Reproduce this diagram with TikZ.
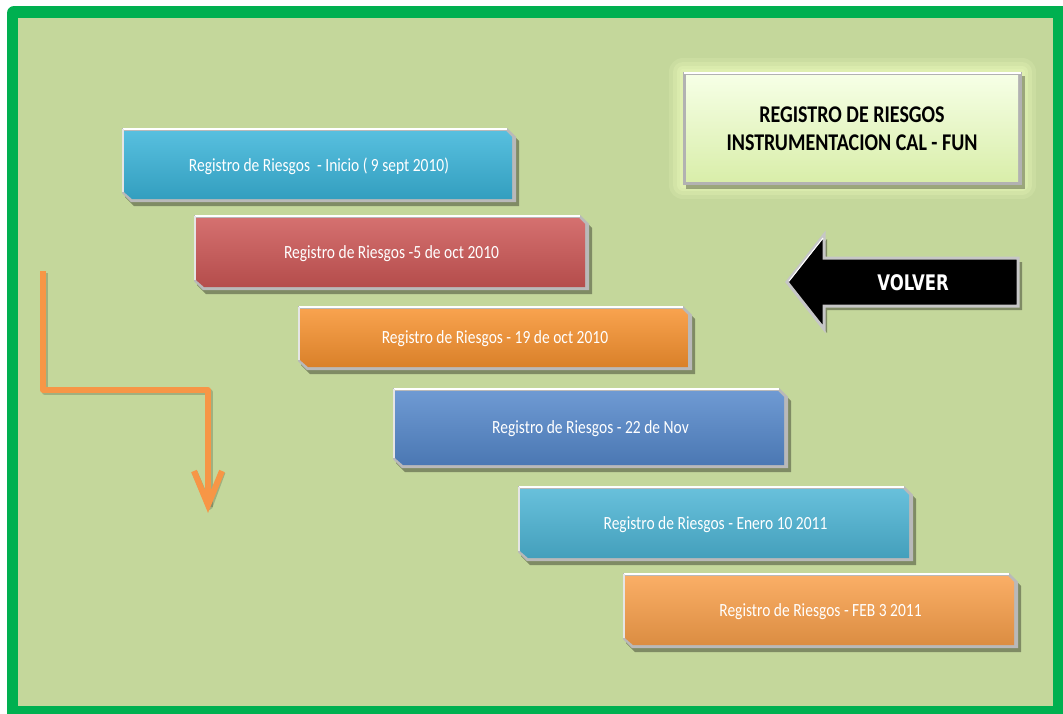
\documentclass[tikz,border=0pt]{standalone}
\usepackage{graphicx}
\usepackage{fontspec}
\setmainfont{Carlito}
\newfontfamily\volverfont{DejaVu Sans}
\usetikzlibrary{calc}

% colours
\definecolor{frameGreen}{HTML}{00B050}
\definecolor{paper}{HTML}{C4D79B}
\definecolor{boxA}{HTML}{3AB4D9}
\definecolor{boxB}{HTML}{CD5756}
\definecolor{boxC}{HTML}{F7922F}
\definecolor{boxD}{HTML}{5588CB}
\definecolor{boxE}{HTML}{4DB5D5}
\definecolor{boxF}{HTML}{F9A04B}
\definecolor{flowOrange}{HTML}{F79646}
\definecolor{titleTop}{HTML}{F6FFE6}
\definecolor{titleBottom}{HTML}{D9EEAA}
\definecolor{titleGlow}{HTML}{E2F2B4}

% vertically stretched text
\newcommand\tallx[2]{\scalebox{1}[#1]{#2}}

\tikzset{
  boxtext/.style={text=white, font=\fontsize{15.5}{18}\selectfont, inner sep=0pt},
  titletext/.style={text=black, font=\bfseries\fontsize{20}{28}\selectfont, align=center, inner sep=0pt},
  volvertext/.style={text=white, font=\volverfont\bfseries\fontsize{16.5}{20}\selectfont, inner sep=0pt},
  flow/.style={draw=flowOrange, line width=6pt, line join=round},
  flowshadow/.style={draw=black, opacity=.18, line width=6pt, line join=round},
}

% bevelled box: name, x1, y1, x2, y2, colour, label
\newcommand\riskbox[7]{%
  \fill[black,opacity=.35]
    ({#2+3},{#3+4}) -- ({#4-9+3},{#3+4}) -- ({#4+3},{#3+9+4}) -- ({#4+3},{#5+4})
    -- ({#2+9+3},{#5+4}) -- ({#2+3},{#5-9+4}) -- cycle;
  \fill[gray!55]
    (#2,#3) -- ({#4-9},#3) -- (#4,{#3+9}) -- (#4,#5) -- ({#2+9},#5) -- (#2,{#5-9}) -- cycle;
  \shade[top color=#6!85!white, middle color=#6, bottom color=#6!88!black]
    ({#2+2},{#3+3}) -- ({#4-10},{#3+3}) -- ({#4-4},{#3+9}) -- ({#4-4},{#5-3})
    -- ({#2+10},{#5-3}) -- ({#2+2},{#5-10}) -- cycle;
  \draw[white, line width=1.6pt] ({#2+1},{#3+1}) -- ({#4-9},{#3+1});
  \draw[white!80!gray, line width=1.2pt] ({#2+1},{#3+1}) -- ({#2+1},{#5-10});
  \node[boxtext] (#1) at ({(#2+#4)/2},{(#3+#5)/2+1}) {\tallx{1.2}{#7}};
}

\begin{document}
\begin{tikzpicture}[x=1pt,y=-1pt]
  \useasboundingbox (0,0) rectangle (1063,713);
  \fill[white] (0,0) rectangle (1063,713);

  % frame and background
  \fill[frameGreen, rounded corners=7pt] (7,6) rectangle (1075,725);
  \fill[paper] (18,18) rectangle (1053,706);

  % title panel with soft glow
  \foreach \g/\o in {14/.25,10/.35,6/.5,3/.7}
    \fill[titleGlow, opacity=\o, rounded corners=\g pt] ({683-\g},{72-\g}) rectangle ({1022+\g},{185+\g});
  \fill[black, opacity=.3] (686,76) rectangle (1025,189);
  \fill[gray!60] (683,72) rectangle (1022,185);
  \shade[top color=titleTop, bottom color=titleBottom] (686,75) rectangle (1018,181);
  \draw[white, line width=1.5pt] (684,73) -- (1021,73);
  \node[titletext] (title) at (852,129)
    {\tallx{1.2}{REGISTRO DE RIESGOS}\\\tallx{1.2}{INSTRUMENTACION CAL - FUN}};

  % timeline of register versions
  \riskbox{r1}{122}{128}{516}{202}{boxA}{Registro de Riesgos\ \ - Inicio ( 9 sept 2010)}
  \riskbox{r2}{194}{215}{589}{290}{boxB}{Registro de Riesgos -5 de oct 2010}
  \riskbox{r3}{298}{306}{692}{370}{boxC}{Registro de Riesgos - 19 de oct 2010}
  \riskbox{r4}{393}{388}{788}{468}{boxD}{Registro de Riesgos - 22 de Nov}
  \riskbox{r5}{518}{486}{913}{561}{boxE}{Registro de Riesgos - Enero 10 2011}
  \riskbox{r6}{623}{573}{1018}{648}{boxF}{Registro de Riesgos - FEB 3 2011}

  % back button
  \fill[black, opacity=.35] (790,286) -- (827,239) -- (827,262) -- (1022,262)
    -- (1022,310) -- (827,310) -- (827,333) -- cycle;
  \filldraw[fill=black, draw=gray!45, line width=3pt, line join=miter]
    (787,282) -- (824,235) -- (824,258) -- (1018,258) -- (1018,306) -- (824,306) -- (824,329) -- cycle;
  \draw[white, line width=1pt] (789,281) -- (823,238);
  \node[volvertext] (volver) at (913,283) {\tallx{1.3}{VOLVER}};

  % flow arrow
  \coordinate (fstart) at (43,271);
  \coordinate (fbend1) at (43,390);
  \coordinate (fbend2) at (208,390);
  \coordinate (fend) at (208,505);
  \draw[flowshadow] ($(fstart)+(1.5,2)$) -- ($(fbend1)+(1.5,2)$) -- ($(fbend2)+(1.5,2)$) -- ($(fend)+(1.5,2)$);
  \draw[flowshadow] ($(fend)+(-13.5,-33)$) -- ($(fend)+(1.5,2)$) -- ($(fend)+(14.5,-33)$);
  \draw[flow] (fstart) -- (fbend1) -- (fbend2) -- (fend);
  \draw[flow, line join=miter] ($(fend)+(-14,-34)$) -- (fend) -- ($(fend)+(14,-34)$);
\end{tikzpicture}
\end{document}
